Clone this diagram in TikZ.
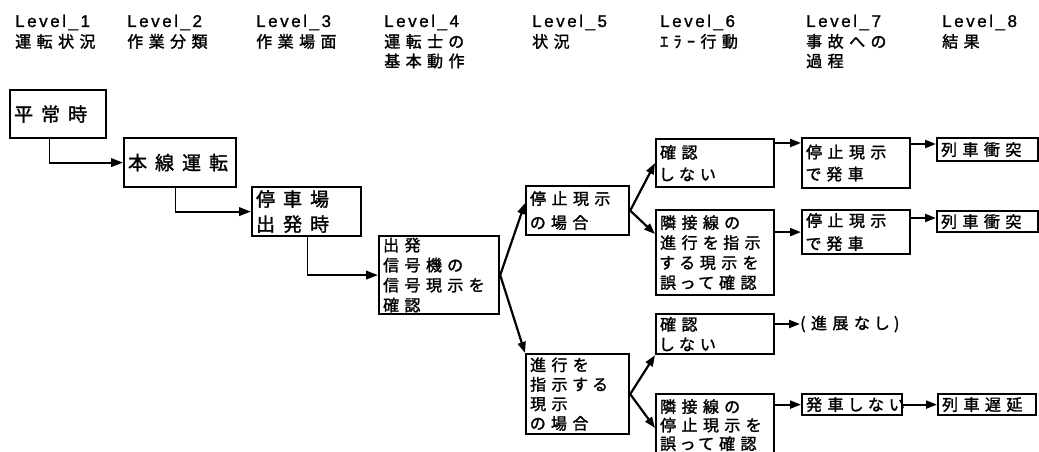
\documentclass[tikz,border=0pt]{standalone}
\usepackage{fontspec}
\setmainfont{Noto Sans CJK JP}
\newfontfamily\jpn[LetterSpace=34,RawFeature=+palt,FakeBold=1.6]{Noto Sans CJK JP}
\newfontfamily\jpbig[LetterSpace=42,RawFeature=+palt,FakeBold=1.6]{Noto Sans CJK JP}
\newfontfamily\latn[LetterSpace=15,FakeBold=1.2]{Liberation Sans}
\usetikzlibrary{arrows.meta,calc}
\newcommand\fN[1]{\fontsize{16pt}{#1pt}\selectfont\jpn}
\newcommand\fB[1]{\fontsize{19pt}{#1pt}\selectfont\jpbig}
\newcommand\fL{\fontsize{17pt}{20pt}\selectfont\latn}
\begin{document}
\begin{tikzpicture}[x=1pt,y=-1pt,
  box/.style={draw, line width=2.2pt, anchor=north west, inner xsep=4pt, inner ysep=0pt, align=left},
  hd/.style={anchor=base west, inner sep=0pt},
  arr/.style={line width=2.2pt, -{Triangle[length=11pt,width=8pt]}},
  vthin/.style={line width=1pt},
  hthick/.style={line width=2.2pt, -{Triangle[length=12pt,width=8.5pt]}},
]
\useasboundingbox (0,0) rectangle (1039,452);

% headers
\node[hd, font=\fL] (h1) at (15,27) {Level\_1};
\node[hd, font=\fL] (h2) at (127,27) {Level\_2};
\node[hd, font=\fL] (h3) at (256,27) {Level\_3};
\node[hd, font=\fL] (h4) at (384,27) {Level\_4};
\node[hd, font=\fL] (h5) at (532,27) {Level\_5};
\node[hd, font=\fL] (h6) at (660,27) {Level\_6};
\node[hd, font=\fL] (h7) at (806,27) {Level\_7};
\node[hd, font=\fL] (h8) at (942,27) {Level\_8};
\node[hd, font=\fN{20}] (g1) at (15,47.5) {運転状況};
\node[hd, font=\fN{20}] (g2) at (127,47.5) {作業分類};
\node[hd, font=\fN{20}] (g3) at (256,47.5) {作業場面};
\node[hd, font=\fN{20}] (g4) at (384,47.5) {運転士の};
\node[hd, font=\fN{20}] (g4b) at (384,67) {基本動作};
\node[hd, font=\fN{20}] (g5) at (532,47.5) {状況};
\node[hd, font=\fN{20}] (g6) at (660,47.5) {ｴﾗｰ行動};
\node[hd, font=\fN{20}] (g7) at (806,47.5) {事故への};
\node[hd, font=\fN{20}] (g7b) at (806,67) {過程};
\node[hd, font=\fN{20}] (g8) at (942,47.5) {結果};

% level 1-4
\node[box, font=\fB{25}, minimum width=96pt, minimum height=48pt, text width=88pt] (n1) at (9,89) {平常時};
\node[box, font=\fB{25}, minimum width=112pt, minimum height=49pt, text width=104pt] (n2) at (123,137) {本線運転};
\node[box, font=\fB{25}, minimum width=109pt, minimum height=49pt, text width=101pt] (n3) at (251,186) {停車場\\出発時};
\node[box, font=\fN{20}, minimum width=120pt, minimum height=78pt, text width=112pt] (n4) at (378,235) {出発\\信号機の\\信号現示を\\確認};

% level 5
\node[box, font=\fN{24}, minimum width=103pt, minimum height=49pt, text width=95pt] (n5a) at (525,185) {停止現示\\の場合};
\node[box, font=\fN{19.5}, minimum width=103pt, minimum height=80pt, text width=95pt] (n5b) at (525,353) {進行を\\指示する\\現示\\の場合};

% level 6
\node[box, font=\fN{22}, minimum width=118pt, minimum height=48pt, text width=110pt] (n6a) at (655,138) {確認\\しない};
\node[box, font=\fN{20}, minimum width=118pt, minimum height=85pt, text width=110pt] (n6b) at (655,209) {隣接線の\\進行を指示\\する現示を\\誤って確認};
\node[box, font=\fN{20}, minimum width=118pt, minimum height=40pt, text width=110pt] (n6c) at (655,313) {確認\\しない};
\node[box, font=\fN{18.5}, minimum width=118pt, minimum height=62pt, text width=110pt] (n6d) at (655,393) {隣接線の\\停止現示を\\誤って確認};

% level 7
\node[box, font=\fN{22}, minimum width=108pt, minimum height=50pt, text width=100pt] (n7a) at (801,137) {停止現示\\で発車};
\node[box, font=\fN{23}, minimum width=108pt, minimum height=44pt, text width=100pt] (n7b) at (801,209) {停止現示\\で発車};
\node[anchor=west, inner sep=0pt, font=\fN{20}] (nt) at (800,324) {(進展なし)};
\node[box, font=\fN{20}, minimum width=100pt, minimum height=21pt, text width=92pt] (n7c) at (801,393) {発車しない};

% level 8
\node[box, font=\fN{20}, minimum width=101pt, minimum height=23pt, text width=93pt] (n8a) at (936,137) {列車衝突};
\node[box, font=\fN{20}, minimum width=101pt, minimum height=21pt, text width=93pt] (n8b) at (936,210) {列車衝突};
\node[box, font=\fN{20}, minimum width=98pt, minimum height=21pt, text width=90pt] (n8c) at (937,393) {列車遅延};

% elbow connectors
\path ([xshift=40pt]n1.south west) coordinate (s1);
\path (s1 |- n2.west) coordinate (k1);
\draw[vthin] (s1) -- (k1);
\draw[hthick] (k1) -- (n2.west);
\path ([xshift=52pt]n2.south west) coordinate (s2);
\path (s2 |- n3.west) coordinate (k2);
\draw[vthin] (s2) -- (k2);
\draw[hthick] (k2) -- (n3.west);
\path ([xshift=56pt]n3.south west) coordinate (s3);
\path (s3 |- n4.west) coordinate (k3);
\draw[vthin] (s3) -- (k3);
\draw[hthick] (k3) -- (n4.west);

% branches
\draw[arr] (n4.east) -- ($(n5a.north west)+(0,18)$);
\draw[arr] (n4.east) -- (n5b.north west);
\draw[arr] (n5a.east) -- (n6a.west);
\draw[arr] (n5a.east) -- ($(n6b.north west)+(0,25)$);
\draw[arr] (n5b.east) -- (n6c.south west);
\draw[arr] (n5b.east) -- ($(n6d.north west)+(0,35)$);

% level 6 -> 7
\draw[arr] ($(n6a.north east)+(0,5)$) -- ($(n7a.north west)+(0,6)$);
\draw[arr] (n7b.west -| n6b.east) -- (n7b.west);
\draw[arr] (nt.west -| n6c.east) -- (nt.west);
\draw[arr] (n7c.west -| n6d.east) -- (n7c.west);

% level 7 -> 8
\draw[arr] ($(n7a.north east)+(0,7)$) -- ($(n8a.north west)+(0,7)$);
\draw[arr] ($(n7b.north east)+(0,9)$) -- ($(n8b.north west)+(0,8)$);
\draw[arr] (n7c.east) -- (n8c.west);
\end{tikzpicture}
\end{document}
